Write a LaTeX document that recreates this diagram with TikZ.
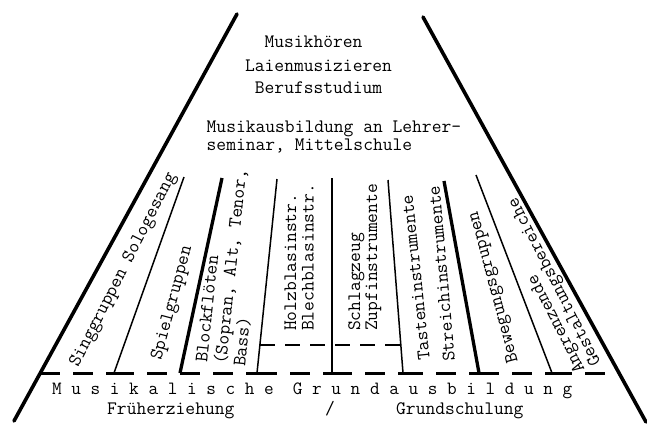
\documentclass[tikz,border=0pt]{standalone}
\newcommand\schreib{\ttfamily\fontsize{19}{22}\selectfont}
\newcommand\sperr{\ttfamily\fontsize{18.7}{22}\selectfont}
\begin{document}
\begin{tikzpicture}[x=1pt,y=-1pt,
	txt/.style={font=\schreib,inner sep=0pt,anchor=base west},
	dick/.style={line width=3.6pt,line cap=round},
	mittel/.style={line width=3.3pt},
	duenn/.style={line width=1.5pt},
	gestr/.style={line width=3pt,dash pattern=on 20pt off 13pt},
	gestrklein/.style={line width=2.6pt,dash pattern=on 15pt off 10pt}]
	\useasboundingbox (0,0) rectangle (647,423);
	% Rahmen
	\coordinate (o0) at (237,14); \coordinate (u0) at (14,421); \coordinate (f0) at (40,373);
	\coordinate (o8) at (423,17); \coordinate (u8) at (646,422); \coordinate (f8) at (619,373);
	\draw[dick] (o0) -- (u0);
	\draw[dick] (o8) -- (u8);
	% Trennlinien
	\coordinate (t1) at (184,177); \coordinate (f1) at (114,373);
	\coordinate (t2) at (222,178); \coordinate (f2) at (180,373);
	\coordinate (t3) at (277,179); \coordinate (f3) at (257,373);
	\coordinate (t4) at (332,178); \coordinate (f4) at (332,373);
	\coordinate (t5) at (388,180); \coordinate (f5) at (403,373);
	\coordinate (t6) at (444,181); \coordinate (f6) at (479,373);
	\coordinate (t7) at (476,175); \coordinate (f7) at (552,373);
	\foreach \i in {1,3,4,5,7} \draw[duenn] (t\i) -- (f\i);
	\foreach \i in {2,6} \draw[mittel] (t\i) -- (f\i);
	\foreach \i/\j in {0/1,1/2,2/3,3/4,4/5,5/6,6/7,7/8} \draw[gestr] (f\i) -- (f\j);
	\coordinate (h3) at (260,345); \coordinate (h5) at (401,345);
	\draw[gestrklein] (h3) -- (h5);
	% Texte oben
	\node[txt,anchor=base] (hoeren) at (313.5,47) {Musikhören};
	\node[txt,anchor=base] (laien) at (318.5,71) {Laienmusizieren};
	\node[txt,anchor=base] (beruf) at (318.5,93) {Berufsstudium};
	\node[txt] (lehrer) at (206.5,132) {Musikausbildung an Lehrer-};
	\node[txt] (seminar) at (206.5,150) {seminar, Mittelschule};
	% Faecher
	\node[txt,rotate=63] (sing) at (78,368) {Singgruppen Sologesang};
	\node[txt,rotate=75] (spiel) at (161,361) {Spielgruppen};
	\node[txt,rotate=84] (block) at (207,363) {Blockflöten};
	\node[txt,rotate=84] (sopran) at (226,365) {(Sopran, Alt, Tenor,};
	\node[txt,rotate=84] (bass) at (245,367) {Bass)};
	\node[txt,rotate=90] (holz) at (296,331) {Holzblasinstr.};
	\node[txt,rotate=90] (blech) at (313.5,331) {Blechblasinstr.};
	\node[txt,rotate=90] (schlag) at (360,331) {Schlagzeug};
	\node[txt,rotate=90] (zupf) at (377,331) {Zupfinstrumente};
	\node[txt,rotate=96] (tasten) at (430,360) {Tasteninstrumente};
	\node[txt,rotate=95] (streich) at (455,361) {Streichinstrumente};
	\node[txt,rotate=105] (beweg) at (518,362) {Bewegungsgruppen};
	\node[txt,rotate=117] (angr) at (585,370) {Angrenzende};
	\node[txt,rotate=117] (gestalt) at (601,363) {Gestaltungsbereiche};
	% Grundausbildung
	\node[txt,font=\sperr] (grund) at (52,394) {M u s i k a l i s c h e \ G r u n d a u s b i l d u n g};
	\node[txt] (frueh) at (107,414) {Früherziehung};
	\node[txt,anchor=base] (slash) at (330,414) {/};
	\node[txt] (schule) at (396,414) {Grundschulung};
\end{tikzpicture}
\end{document}
